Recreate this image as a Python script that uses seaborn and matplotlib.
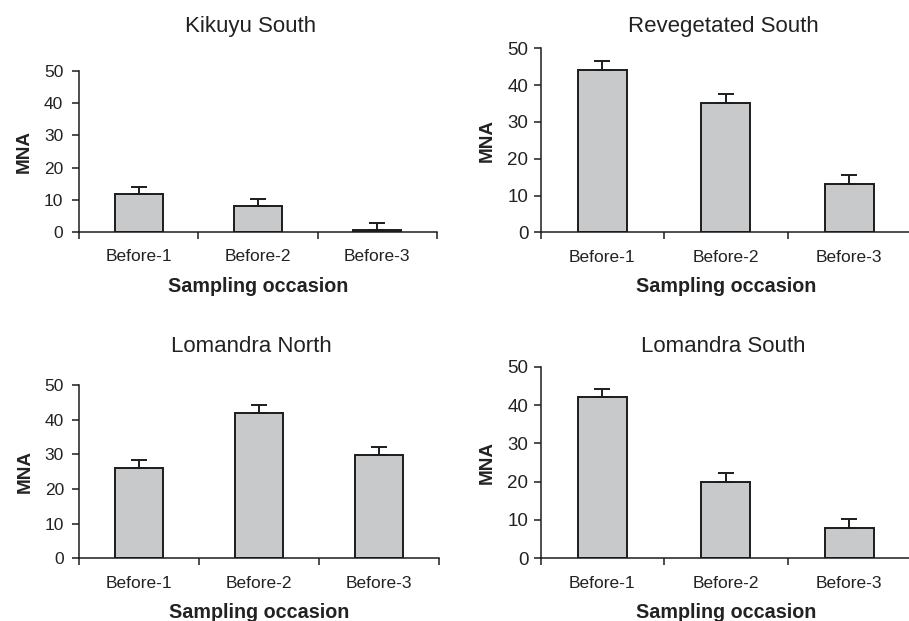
import matplotlib
matplotlib.use("Agg")
import matplotlib.pyplot as plt
import seaborn as sns
import pandas as pd

# ---- data ----
occasions = ["Before-1", "Before-2", "Before-3"]
titles = ["Kikuyu South", "Revegetated South", "Lomandra North", "Lomandra South"]

kikuyu_south = [11.8, 8.2, 0.6]
kikuyu_south_se = [2.3, 2.1, 2.3]
revegetated_south = [44.1, 35.1, 13.1]
revegetated_south_se = [2.4, 2.5, 2.5]
lomandra_north = [26.0, 42.0, 29.8]
lomandra_north_se = [2.4, 2.2, 2.2]
lomandra_south = [42.2, 19.8, 7.8]
lomandra_south_se = [1.9, 2.5, 2.5]

y_ticks = [0, 10, 20, 30, 40, 50]
x_label = "Sampling occasion"
y_label = "MNA"

# ---- style ----
sns.set_theme(style="ticks")
plt.rcParams['font.family'] = ['Liberation Sans', 'DejaVu Sans']
DARK = "#1c1c1c"
FILL = "#c8c9cb"
TEXT = "#222222"

W, H = 909, 621
fig = plt.figure(figsize=(W / 100, H / 100), dpi=100)

# pixel boxes: left, top, right, bottom
panels = [
    dict(title=titles[0], vals=kikuyu_south, se=kikuyu_south_se,
         box=(79, 71, 437, 232), tpad=27.9, tx=0.478, ytpad=6.5, ytsize=12.5),
    dict(title=titles[1], vals=revegetated_south, se=revegetated_south_se,
         box=(540.5, 48.3, 911, 232.3), tpad=11.5, tx=0.494, ytpad=4.0, ytsize=13.5),
    dict(title=titles[2], vals=lomandra_north, se=lomandra_north_se,
         box=(79, 385, 439, 558.3), tpad=24.0, tx=0.48, ytpad=6.0, ytsize=12.5),
    dict(title=titles[3], vals=lomandra_south, se=lomandra_south_se,
         box=(540.5, 366.7, 911, 558.3), tpad=10.8, tx=0.494, ytpad=4.0, ytsize=13.5),
]

for p in panels:
    l, t, r, b = p["box"]
    ax = fig.add_axes([l / W, 1 - b / H, (r - l) / W, (b - t) / H])
    df = pd.DataFrame({"occasion": occasions, "mna": p["vals"]})
    sns.barplot(data=df, x="occasion", y="mna", ax=ax, color=FILL,
                saturation=1, width=0.4, edgecolor=DARK, linewidth=1.4,
                errorbar=None, zorder=2)
    centers = [bar.get_x() + bar.get_width() / 2 for bar in ax.patches]
    ax.errorbar(centers, p["vals"], yerr=[[0] * len(p["se"]), p["se"]],
                fmt="none", ecolor=DARK, elinewidth=1.4, capsize=5.5,
                capthick=1.4, zorder=3)

    ax.set_ylim(0, 50)
    ax.set_xlim(-0.5, len(occasions) - 0.5)
    ax.set_yticks(y_ticks)
    ax.set_xticks([i - 0.5 for i in range(len(occasions) + 1)], minor=True)
    sns.despine(ax=ax)
    for s in ("left", "bottom"):
        ax.spines[s].set_linewidth(1.1)
        ax.spines[s].set_color(DARK)
    ax.tick_params(axis="x", which="major", length=0, pad=12.5, labelsize=12.5,
                   colors=TEXT)
    ax.tick_params(axis="x", which="minor", length=5, width=1.1, color=DARK,
                   direction="out")
    ax.tick_params(axis="y", length=4.8, width=1.1, color=DARK, pad=p["ytpad"],
                   labelsize=p["ytsize"], labelcolor=TEXT)
    ax.set_xlabel(x_label, fontsize=14.2, fontweight="bold", labelpad=9,
                  color=TEXT)
    ax.set_ylabel(y_label, fontsize=13.6, fontweight="bold", labelpad=8,
                  color=TEXT)
    ax.set_title(p["title"], fontsize=16, pad=p["tpad"], x=p["tx"],
                 color=TEXT)

fig.savefig("out.png", dpi=100)
